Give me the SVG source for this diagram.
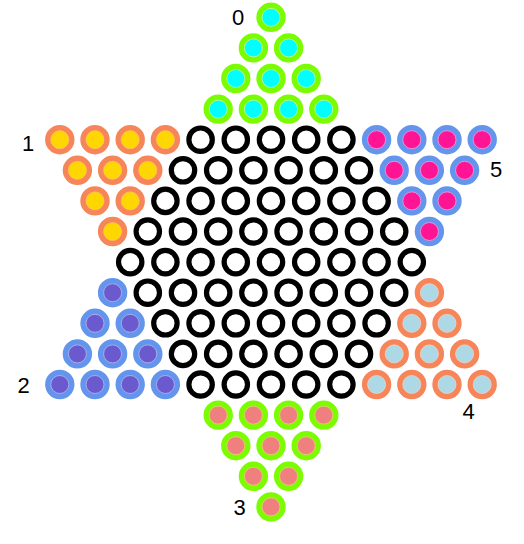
<svg xmlns="http://www.w3.org/2000/svg" xmlns:xlink="http://www.w3.org/1999/xlink" width="524" height="544" viewBox="0 0 524 544">
<style>
.lbl{font-family:"Liberation Sans","DejaVu Sans",sans-serif;font-size:22px;fill:#000;text-anchor:middle}
.ring{stroke-width:5.6}
.hole{fill:#fff;stroke:#000;stroke-width:5.2}
</style>
<defs>
<g id="pA"><circle r="11.9" class="ring" fill="#00FFFF" stroke="#7CFC00"/><circle r="9" fill="none" stroke="#c8ff90" stroke-width="0.8"/></g>
<g id="pB"><circle r="11.9" class="ring" fill="#FFD700" stroke="#F7855A"/><circle r="9" fill="none" stroke="#ffc060" stroke-width="0.8"/></g>
<g id="pC"><circle r="11.9" class="ring" fill="#FF1493" stroke="#6495ED"/><circle r="9" fill="none" stroke="#f0a0e8" stroke-width="0.8"/></g>
<g id="pD"><circle r="11.9" class="ring" fill="#6A5ACD" stroke="#6495ED"/><circle r="9" fill="none" stroke="#b8b8f4" stroke-width="0.8"/></g>
<g id="pE"><circle r="11.9" class="ring" fill="#ADD8E6" stroke="#F7855A"/><circle r="9" fill="none" stroke="#f0d0c0" stroke-width="0.8"/></g>
<g id="pF"><circle r="11.9" class="ring" fill="#F08080" stroke="#7CFC00"/><circle r="9" fill="none" stroke="#e8d070" stroke-width="0.8"/></g>
<circle id="h" r="11.7" class="hole"/>
</defs>
<rect width="524" height="544" fill="#fff"/>

<g id="set0">
<use xlink:href="#pA" x="271" y="17.3"/>
<use xlink:href="#pA" x="253.4" y="47.9"/><use xlink:href="#pA" x="288.6" y="47.9"/>
<use xlink:href="#pA" x="235.8" y="78.5"/><use xlink:href="#pA" x="271" y="78.5"/><use xlink:href="#pA" x="306.2" y="78.5"/>
<use xlink:href="#pA" x="218.2" y="109.1"/><use xlink:href="#pA" x="253.4" y="109.1"/><use xlink:href="#pA" x="288.6" y="109.1"/><use xlink:href="#pA" x="323.8" y="109.1"/>
</g>

<g id="set1">
<use xlink:href="#pB" x="59.8" y="139.7"/><use xlink:href="#pB" x="95" y="139.7"/><use xlink:href="#pB" x="130.2" y="139.7"/><use xlink:href="#pB" x="165.4" y="139.7"/>
<use xlink:href="#pB" x="77.4" y="170.3"/><use xlink:href="#pB" x="112.6" y="170.3"/><use xlink:href="#pB" x="147.8" y="170.3"/>
<use xlink:href="#pB" x="95" y="200.9"/><use xlink:href="#pB" x="130.2" y="200.9"/>
<use xlink:href="#pB" x="112.6" y="231.5"/>
</g>

<g id="set5">
<use xlink:href="#pC" x="376.6" y="139.7"/><use xlink:href="#pC" x="411.8" y="139.7"/><use xlink:href="#pC" x="447" y="139.7"/><use xlink:href="#pC" x="482.2" y="139.7"/>
<use xlink:href="#pC" x="394.2" y="170.3"/><use xlink:href="#pC" x="429.4" y="170.3"/><use xlink:href="#pC" x="464.6" y="170.3"/>
<use xlink:href="#pC" x="411.8" y="200.9"/><use xlink:href="#pC" x="447" y="200.9"/>
<use xlink:href="#pC" x="429.4" y="231.5"/>
</g>

<g id="set2">
<use xlink:href="#pD" x="112.6" y="292.7"/>
<use xlink:href="#pD" x="95" y="323.3"/><use xlink:href="#pD" x="130.2" y="323.3"/>
<use xlink:href="#pD" x="77.4" y="353.9"/><use xlink:href="#pD" x="112.6" y="353.9"/><use xlink:href="#pD" x="147.8" y="353.9"/>
<use xlink:href="#pD" x="59.8" y="384.5"/><use xlink:href="#pD" x="95" y="384.5"/><use xlink:href="#pD" x="130.2" y="384.5"/><use xlink:href="#pD" x="165.4" y="384.5"/>
</g>

<g id="set4">
<use xlink:href="#pE" x="429.4" y="292.7"/>
<use xlink:href="#pE" x="411.8" y="323.3"/><use xlink:href="#pE" x="447" y="323.3"/>
<use xlink:href="#pE" x="394.2" y="353.9"/><use xlink:href="#pE" x="429.4" y="353.9"/><use xlink:href="#pE" x="464.6" y="353.9"/>
<use xlink:href="#pE" x="376.6" y="384.5"/><use xlink:href="#pE" x="411.8" y="384.5"/><use xlink:href="#pE" x="447" y="384.5"/><use xlink:href="#pE" x="482.2" y="384.5"/>
</g>

<g id="set3">
<use xlink:href="#pF" x="218.2" y="415.1"/><use xlink:href="#pF" x="253.4" y="415.1"/><use xlink:href="#pF" x="288.6" y="415.1"/><use xlink:href="#pF" x="323.8" y="415.1"/>
<use xlink:href="#pF" x="235.8" y="445.7"/><use xlink:href="#pF" x="271" y="445.7"/><use xlink:href="#pF" x="306.2" y="445.7"/>
<use xlink:href="#pF" x="253.4" y="476.3"/><use xlink:href="#pF" x="288.6" y="476.3"/>
<use xlink:href="#pF" x="271" y="506.9"/>
</g>

<g id="holes">
<use xlink:href="#h" x="200.6" y="139.7"/><use xlink:href="#h" x="235.8" y="139.7"/><use xlink:href="#h" x="271" y="139.7"/><use xlink:href="#h" x="306.2" y="139.7"/><use xlink:href="#h" x="341.4" y="139.7"/>
<use xlink:href="#h" x="183" y="170.3"/><use xlink:href="#h" x="218.2" y="170.3"/><use xlink:href="#h" x="253.4" y="170.3"/><use xlink:href="#h" x="288.6" y="170.3"/><use xlink:href="#h" x="323.8" y="170.3"/><use xlink:href="#h" x="359" y="170.3"/>
<use xlink:href="#h" x="165.4" y="200.9"/><use xlink:href="#h" x="200.6" y="200.9"/><use xlink:href="#h" x="235.8" y="200.9"/><use xlink:href="#h" x="271" y="200.9"/><use xlink:href="#h" x="306.2" y="200.9"/><use xlink:href="#h" x="341.4" y="200.9"/><use xlink:href="#h" x="376.6" y="200.9"/>
<use xlink:href="#h" x="147.8" y="231.5"/><use xlink:href="#h" x="183" y="231.5"/><use xlink:href="#h" x="218.2" y="231.5"/><use xlink:href="#h" x="253.4" y="231.5"/><use xlink:href="#h" x="288.6" y="231.5"/><use xlink:href="#h" x="323.8" y="231.5"/><use xlink:href="#h" x="359" y="231.5"/><use xlink:href="#h" x="394.2" y="231.5"/>
<use xlink:href="#h" x="130.2" y="262.1"/><use xlink:href="#h" x="165.4" y="262.1"/><use xlink:href="#h" x="200.6" y="262.1"/><use xlink:href="#h" x="235.8" y="262.1"/><use xlink:href="#h" x="271" y="262.1"/><use xlink:href="#h" x="306.2" y="262.1"/><use xlink:href="#h" x="341.4" y="262.1"/><use xlink:href="#h" x="376.6" y="262.1"/><use xlink:href="#h" x="411.8" y="262.1"/>
<use xlink:href="#h" x="147.8" y="292.7"/><use xlink:href="#h" x="183" y="292.7"/><use xlink:href="#h" x="218.2" y="292.7"/><use xlink:href="#h" x="253.4" y="292.7"/><use xlink:href="#h" x="288.6" y="292.7"/><use xlink:href="#h" x="323.8" y="292.7"/><use xlink:href="#h" x="359" y="292.7"/><use xlink:href="#h" x="394.2" y="292.7"/>
<use xlink:href="#h" x="165.4" y="323.3"/><use xlink:href="#h" x="200.6" y="323.3"/><use xlink:href="#h" x="235.8" y="323.3"/><use xlink:href="#h" x="271" y="323.3"/><use xlink:href="#h" x="306.2" y="323.3"/><use xlink:href="#h" x="341.4" y="323.3"/><use xlink:href="#h" x="376.6" y="323.3"/>
<use xlink:href="#h" x="183" y="353.9"/><use xlink:href="#h" x="218.2" y="353.9"/><use xlink:href="#h" x="253.4" y="353.9"/><use xlink:href="#h" x="288.6" y="353.9"/><use xlink:href="#h" x="323.8" y="353.9"/><use xlink:href="#h" x="359" y="353.9"/>
<use xlink:href="#h" x="200.6" y="384.5"/><use xlink:href="#h" x="235.8" y="384.5"/><use xlink:href="#h" x="271" y="384.5"/><use xlink:href="#h" x="306.2" y="384.5"/><use xlink:href="#h" x="341.4" y="384.5"/>
</g>

<g id="labels">
<text class="lbl" x="238" y="25">0</text>
<text class="lbl" x="28" y="151">1</text>
<text class="lbl" x="23.5" y="393">2</text>
<text class="lbl" x="239.5" y="514.5">3</text>
<text class="lbl" x="468.5" y="418.5">4</text>
<text class="lbl" x="496" y="177">5</text>
</g>
</svg>
